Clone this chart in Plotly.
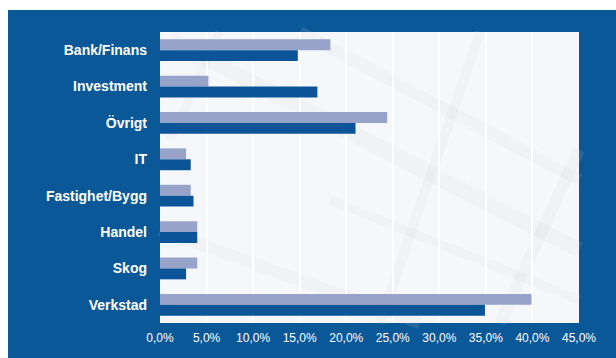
import plotly.graph_objects as go

# Branschfördelning, andel i procent
branscher = ["Bank/Finans", "Investment", "Övrigt", "IT", "Fastighet/Bygg",
             "Handel", "Skog", "Verkstad"]
serie_ljus = [18.3, 5.2, 24.4, 2.8, 3.3, 4.0, 4.0, 39.9]
serie_mork = [14.8, 16.9, 21.0, 3.3, 3.6, 4.0, 2.8, 34.9]
x_ticks = [0, 5, 10, 15, 20, 25, 30, 35, 40, 45]

BLUE = "#0b5899"
LIGHT = "#98a3c9"
DARK = "#0b5497"
PLOT_BG = "#f6f7fa"

W, H = 616, 358
L, R, T, B = 160, 37, 32, 35
pw, ph = W - L - R, H - T - B

fig = go.Figure()
fig.add_trace(go.Bar(y=branscher, x=[v / 100 for v in serie_ljus], orientation="h",
                     marker=dict(color=LIGHT, line=dict(width=0)), name="Portfölj"))
fig.add_trace(go.Bar(y=branscher, x=[v / 100 for v in serie_mork], orientation="h",
                     marker=dict(color=DARK, line=dict(width=0)), name="Index"))


def px_x(p):
    return (p - L) / pw


def px_y(p):
    return (H - B - p) / ph


shapes = [
    # white margin strips around the blue panel
    dict(type="rect", xref="paper", yref="paper", x0=px_x(-5), x1=px_x(W + 5),
         y0=px_y(10), y1=px_y(-5), fillcolor="white", line_width=0),
    dict(type="rect", xref="paper", yref="paper", x0=px_x(-5), x1=px_x(8),
         y0=px_y(H + 5), y1=px_y(-5), fillcolor="white", line_width=0),
]

# faint background streaks in the plot area
streaks = [
    ((170, 40), (579, 250), 16),
    ((300, 32), (579, 180), 12),
    ((160, 230), (420, 323), 12),
    ((480, 32), (380, 323), 10),
    ((579, 150), (500, 323), 12),
    ((220, 32), (170, 140), 9),
    ((330, 200), (579, 300), 9),
]
for (x0, y0), (x1, y1), w in streaks:
    shapes.append(dict(type="line", xref="paper", yref="paper",
                       x0=px_x(x0), y0=px_y(y0), x1=px_x(x1), y1=px_y(y1),
                       line=dict(color="rgba(205,205,215,0.13)", width=w),
                       layer="below"))

fig.update_layout(
    width=W, height=H,
    margin=dict(l=L, r=R, t=T, b=B),
    paper_bgcolor=BLUE,
    plot_bgcolor=PLOT_BG,
    barmode="group",
    bargap=0.4,
    bargroupgap=0,
    showlegend=False,
    separators=", ",
    shapes=shapes,
    font=dict(family="Liberation Sans, Arial, sans-serif", color="white"),
)
fig.update_xaxes(
    range=[0, 0.45],
    tickvals=[t / 100 for t in x_ticks],
    tickformat=".1%",
    showgrid=True, gridcolor="white", gridwidth=1.5,
    zeroline=False, showline=False,
    ticks="", ticklabelstandoff=6,
    tickfont=dict(size=12, color="white"),
    fixedrange=True,
)
fig.update_yaxes(
    autorange="reversed",
    showgrid=False, zeroline=False, showline=False,
    ticks="", ticklabelstandoff=12,
    tickfont=dict(size=14, color="white", weight="bold"),
    fixedrange=True,
)

fig.write_html("out.html")
